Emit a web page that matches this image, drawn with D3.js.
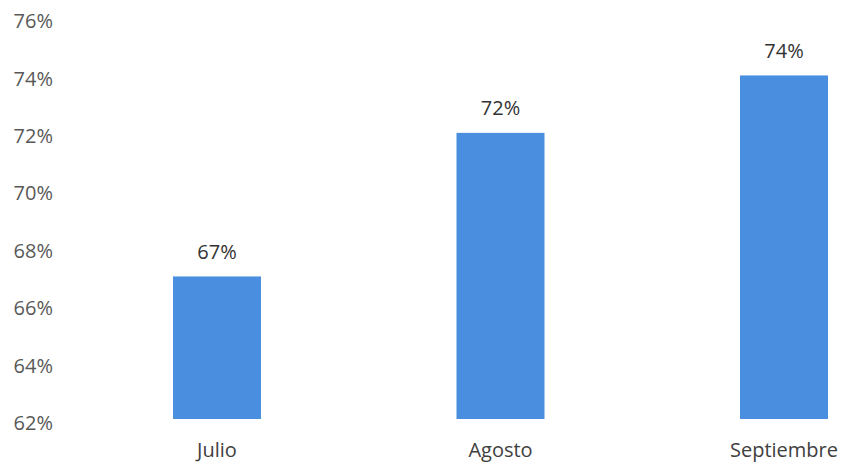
<!DOCTYPE html>
<html>
<head>
<meta charset="utf-8">
<script src="https://cdn.jsdelivr.net/npm/d3@7/dist/d3.min.js"></script>
<style>
  body { margin: 0; background: #fff; }
  svg text { font-family: "Open Sans", sans-serif; }
</style>
</head>
<body>
<svg id="chart" width="845" height="463"></svg>
<script>
// chart data
const months = ["Julio", "Agosto", "Septiembre"];
const values = [67, 72, 74];
const yTicks = [62, 64, 66, 68, 70, 72, 74, 76];

const svg = d3.select("#chart");
const barWidth = 88;

const x = d3.scalePoint().domain(months).range([217, 784]);
const y = d3.scaleLinear().domain([62, 76]).range([420, 18]);

// y axis labels only, no line or gridlines
svg.append("g").selectAll("text")
    .data(yTicks)
    .join("text")
    .attr("x", 53)
    .attr("y", d => y(d) + 3)
    .attr("dy", "0.36em")
    .attr("text-anchor", "end")
    .attr("font-size", 20)
    .attr("fill", "#595959")
    .text(d => d + "%");

// bars
svg.append("g").selectAll("rect")
    .data(values)
    .join("rect")
    .attr("x", (d, i) => x(months[i]) - barWidth / 2)
    .attr("y", d => y(d))
    .attr("width", barWidth)
    .attr("height", d => y(62) - 1 - y(d))
    .attr("fill", "#4a8fdf");

// value labels above bars
svg.append("g").selectAll("text")
    .data(values)
    .join("text")
    .attr("x", (d, i) => x(months[i]))
    .attr("y", d => y(d) - 25)
    .attr("dy", "0.36em")
    .attr("text-anchor", "middle")
    .attr("font-size", 20)
    .attr("fill", "#333")
    .text(d => d + "%");

// category labels
svg.append("g").selectAll("text")
    .data(months)
    .join("text")
    .attr("x", d => x(d))
    .attr("y", 457)
    .attr("text-anchor", "middle")
    .attr("font-size", 20)
    .attr("fill", "#404040")
    .text(d => d);
</script>
</body>
</html>
